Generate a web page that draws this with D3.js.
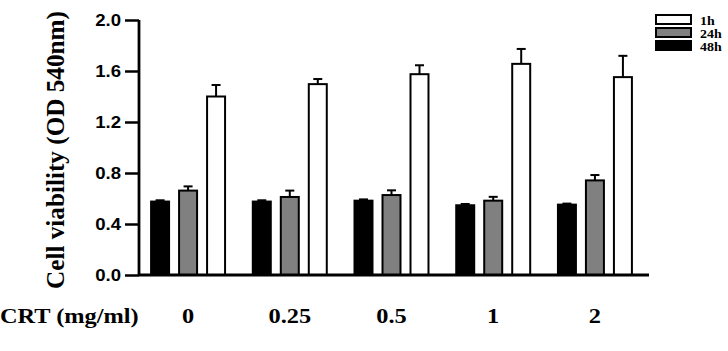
<!DOCTYPE html>
<html lang="en">
<head>
  <meta charset="UTF-8" />
  <title>Cell viability</title>
  <style>
    html, body { margin: 0; background: #fff; }
    svg { display: block; }
    .serif { font-family: "Liberation Serif", "Times New Roman", serif; font-weight: bold; }
    .ytick text { font-family: "Liberation Sans", Arial, sans-serif; font-weight: bold; font-size: 16px; }
  </style>
</head>
<body>
  <svg id="chart" width="728" height="351"></svg>
  <script src="https://cdn.jsdelivr.net/npm/d3@7/dist/d3.min.js"></script>
  <script>
    // data
    const doses = ["0", "0.25", "0.5", "1", "2"];
    const series = ["48h", "24h", "1h"];          // drawing order inside a group
    const legendOrder = ["1h", "24h", "48h"];
    const mean48 = [0.576, 0.576, 0.583, 0.547, 0.552];
    const err48  = [0.01, 0.01, 0.01, 0.01, 0.008];
    const mean24 = [0.662, 0.612, 0.627, 0.583, 0.742];
    const err24  = [0.033, 0.05, 0.037, 0.03, 0.042];
    const mean1  = [1.40, 1.497, 1.575, 1.656, 1.552];
    const err1   = [0.09, 0.04, 0.07, 0.117, 0.167];
    const yTicks = [0, 0.4, 0.8, 1.2, 1.6, 2.0];

    const means = { "48h": mean48, "24h": mean24, "1h": mean1 };
    const errs  = { "48h": err48,  "24h": err24,  "1h": err1 };
    const fills = { "48h": "#000", "24h": "#808080", "1h": "#fff" };

    const rows = doses.map((d, i) => ({
      dose: d,
      bars: series.map(s => ({ key: s, value: means[s][i], err: errs[s][i] }))
    }));

    const svg = d3.select("#chart");
    const sx = 1.16; // the figure is a bit wide: stretch text horizontally

    const x0 = d3.scaleBand().domain(doses).range([139, 644])
      .paddingInner(0.253).paddingOuter(0.109);
    const x1 = d3.scaleBand().domain(series).range([0, x0.bandwidth()])
      .paddingInner(0.286).paddingOuter(0);
    const y = d3.scaleLinear().domain([0, 2]).range([275, 20]);

    // bars
    const groups = svg.append("g").selectAll("g")
      .data(rows)
      .enter().append("g")
        .attr("transform", d => `translate(${x0(d.dose)},0)`);

    const bar = groups.selectAll("g.bar")
      .data(d => d.bars)
      .enter().append("g").attr("class", "bar");

    // error bars (upper half only)
    bar.append("line")
      .attr("x1", d => x1(d.key) + x1.bandwidth() / 2)
      .attr("x2", d => x1(d.key) + x1.bandwidth() / 2)
      .attr("y1", d => y(d.value))
      .attr("y2", d => y(d.value + d.err))
      .attr("stroke", "#000").attr("stroke-width", 2);
    bar.append("line")
      .attr("x1", d => x1(d.key) + x1.bandwidth() / 2 - 4.5)
      .attr("x2", d => x1(d.key) + x1.bandwidth() / 2 + 4.5)
      .attr("y1", d => y(d.value + d.err))
      .attr("y2", d => y(d.value + d.err))
      .attr("stroke", "#000").attr("stroke-width", 2);

    bar.append("rect")
      .attr("x", d => x1(d.key) + 1)
      .attr("width", x1.bandwidth() - 2)
      .attr("y", d => y(d.value))
      .attr("height", d => y(0) - y(d.value))
      .attr("fill", d => fills[d.key])
      .attr("stroke", "#000").attr("stroke-width", 2);

    // y axis
    const yAxis = svg.append("g")
      .attr("class", "ytick")
      .attr("transform", "translate(139,0)")
      .call(d3.axisLeft(y).tickValues(yTicks).tickFormat(d3.format(".1f"))
        .tickSize(14).tickPadding(2));
    yAxis.selectAll("line").attr("stroke-width", 2.5);
    yAxis.select(".domain").attr("stroke-width", 2.8).attr("d", "M0,20V275");
    yAxis.selectAll("text").attr("fill", "#000")
      .attr("transform", `scale(${sx},1)`)
      .attr("x", -18 / sx);

    // x axis
    const xAxis = svg.append("g")
      .attr("transform", `translate(0,${y(0)})`)
      .call(d3.axisBottom(x0).tickSize(0));
    xAxis.select(".domain").attr("stroke-width", 2.8).attr("d", "M139,0H649");
    xAxis.selectAll(".tick text")
      .attr("class", "serif")
      .attr("fill", "#000")
      .style("font-size", "21px")
      .attr("dy", 0).attr("y", 48)
      .attr("transform", `scale(${sx},1)`);

    svg.append("text")
      .attr("class", "serif")
      .attr("transform", `translate(0,323) scale(${sx},1)`)
      .style("font-size", "21px")
      .text("CRT (mg/ml)");

    // y title
    svg.append("text")
      .attr("class", "serif")
      .attr("transform", `translate(64,150) scale(${sx},1) rotate(-90)`)
      .attr("text-anchor", "middle")
      .attr("textLength", 278).attr("lengthAdjust", "spacingAndGlyphs")
      .style("font-size", "22px")
      .text("Cell viability (OD 540nm)");

    // legend
    const legend = svg.append("g").attr("transform", "translate(656,15)");
    legendOrder.forEach((s, i) => {
      const row = legend.append("g").attr("transform", `translate(0,${i * 13})`);
      row.append("rect")
        .attr("width", 35).attr("height", 9)
        .attr("fill", fills[s]).attr("stroke", "#000").attr("stroke-width", 2);
      row.append("text")
        .attr("class", "serif")
        .attr("transform", `translate(44,10) scale(${sx},1)`)
        .style("font-size", "12px")
        .text(s);
    });
  </script>
</body>
</html>
